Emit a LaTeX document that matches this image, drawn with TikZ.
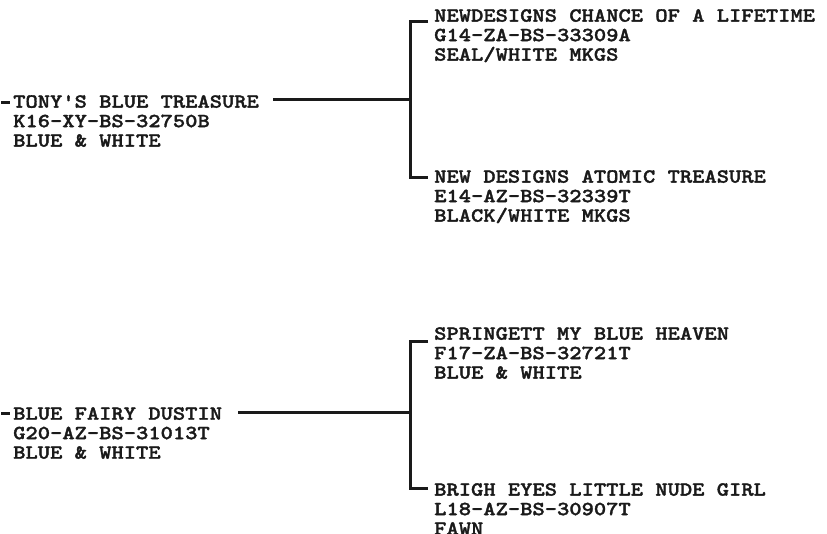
\documentclass[tikz,border=0pt]{standalone}
\usepackage{fontspec}
\newfontfamily\cour{lmmonolt10-bold}[Extension=.otf,FakeStretch=1.17,FakeBold=1.6]
\definecolor{ink}{HTML}{1A1A1A}
\begin{document}
\begin{tikzpicture}[x=1pt,y=-1pt,
  dog/.style={anchor=north west,inner sep=0pt,align=left,text=ink,
    font=\cour\fontsize{20}{19.5}\selectfont},
  conn/.style={draw=ink,line width=3pt,line cap=butt,line join=miter}]
\useasboundingbox (0,0) rectangle (827,534);
% left column
\node[dog] (a) at (13,95) {TONY'S BLUE TREASURE\\K16-XY-BS-32750B\\BLUE \& WHITE};
\node[dog] (b) at (13,407) {BLUE FAIRY DUSTIN\\G20-AZ-BS-31013T\\BLUE \& WHITE};
% right column
\node[dog] (a1) at (434,9) {NEWDESIGNS CHANCE OF A LIFETIME\\G14-ZA-BS-33309A\\SEAL/WHITE MKGS};
\node[dog] (a2) at (434,170) {NEW DESIGNS ATOMIC TREASURE\\E14-AZ-BS-32339T\\BLACK/WHITE MKGS};
\node[dog] (b1) at (434,327) {SPRINGETT MY BLUE HEAVEN\\F17-ZA-BS-32721T\\BLUE \& WHITE};
\node[dog] (b2) at (434,483) {BRIGH EYES LITTLE NUDE GIRL\\L18-AZ-BS-30907T\\FAWN};
% connector points
\coordinate (atick0) at (1,103); \coordinate (atick1) at (10,103);
\coordinate (btick0) at (1,413); \coordinate (btick1) at (10,413);
\coordinate (aout) at (273,100); \coordinate (bout) at (238,412);
\coordinate (ja) at (410,100); \coordinate (jb) at (410,412);
\coordinate (a1in) at (428,22); \coordinate (a2in) at (428,178);
\coordinate (b1in) at (428,342); \coordinate (b2in) at (428,488);
% connectors
\draw[conn] (atick0) -- (atick1);
\draw[conn] (btick0) -- (btick1);
\draw[conn] (aout) -- (ja);
\draw[conn] (bout) -- (jb);
\draw[conn] (a1in) -| (ja) |- (a2in);
\draw[conn] (b1in) -| (jb) |- (b2in);
\end{tikzpicture}
\end{document}
